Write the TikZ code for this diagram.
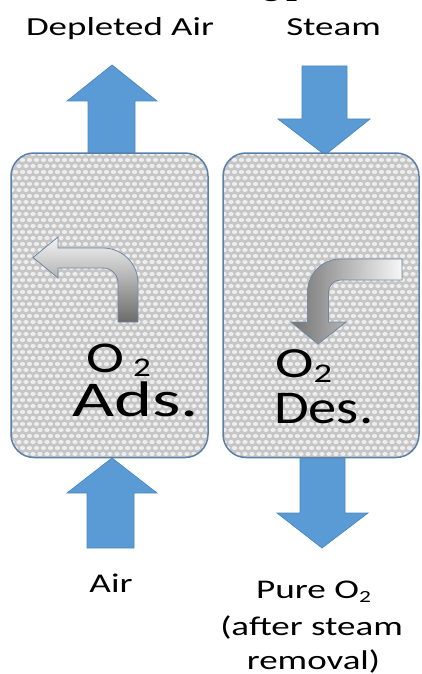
\documentclass[tikz,border=0pt]{standalone}
\usepackage{fontspec}
\setmainfont{Carlito}
\definecolor{flowblue}{HTML}{5B9BD5}
\definecolor{flowedge}{HTML}{4C86BE}
\definecolor{bedgray}{HTML}{C6C6C6}
\definecolor{beddot}{HTML}{EEEEEE}
\definecolor{bededge}{HTML}{5B80A8}
\definecolor{turnedge}{HTML}{6F88A3}
\newcommand\stretchx[2]{\scalebox{#1}[1]{#2}}
\begin{document}
\begin{tikzpicture}[x=1pt,y=-1pt,
  flow/.style={fill=flowblue,draw=flowedge,line width=0.7pt,line join=miter},
  bed/.style={rounded corners=23pt},
  bedline/.style={bed,draw=bededge,line width=1.5pt},
  turn/.style={draw=turnedge,line width=0.8pt},
  lbl/.style={inner sep=0pt,anchor=base,font=\fontsize{26}{30}\selectfont},
  big/.style={inner sep=0pt,anchor=base west}]
\useasboundingbox (0,0) rectangle (421,674);

% heading, cut off at the top edge
\node[big,font=\fontsize{28}{30}\selectfont] (head) at (258,1.3)
  {\stretchx{1.4}{O\hspace{1pt}{\fontsize{17}{17}\selectfont 2}}};

% blue flow arrows
\draw[flow] (88,155) -- (88,101) -- (67,101) -- (112,65) -- (157,101) -- (135,101) -- (135,155) -- cycle;
\draw[flow] (302,66) -- (347,66) -- (347,119) -- (370,119) -- (325,155) -- (278,119) -- (302,119) -- cycle;
\draw[flow] (87,548) -- (87,493) -- (67,493) -- (112,458) -- (157,493) -- (134,493) -- (134,548) -- cycle;
\draw[flow] (300,456) -- (345,456) -- (345,513) -- (368,513) -- (322,548) -- (277,513) -- (300,513) -- cycle;

% packed beds with a knitted texture
\foreach \bx/\ex in {11/208,223/419}{
  \begin{scope}
    \clip[bed] (\bx,153) rectangle (\ex,457.5);
    \fill[bedgray] (\bx,153) rectangle (\ex,457.5);
    \foreach \r in {0,...,51}{
      \foreach \c in {0,...,29}{
        \fill[beddot] ({\bx+1+7*\c+3.5*mod(\r,2)},{154+6*\r}) ellipse (2.7 and 2.0);
      }
    }
  \end{scope}
  \draw[bedline] (\bx,153) rectangle (\ex,457.5);
}

% turning arrows inside the beds
\draw[turn,top color=white!96!black,bottom color=black!58] (118,322) -- (118,283)
  arc[start angle=0,end angle=-90,radius=15] -- (58,268) -- (58,278) -- (33,257.5)
  -- (58,237) -- (58,248) -- (103,248) arc[start angle=-90,end angle=0,radius=35]
  -- (138,322) -- cycle;
\draw[turn,left color=black!55,right color=white!97!black] (402,259) -- (340.5,259)
  arc[start angle=-90,end angle=-180,radius=33] -- (307.5,322) -- (291,322) -- (318,344)
  -- (346,322) -- (328.5,322) -- (328.5,292) arc[start angle=180,end angle=270,radius=12]
  -- (402,280) -- cycle;

% bed labels
\node[big,font=\fontsize{44}{48}\selectfont] (oads) at (86,372)
  {\stretchx{1.3}{O\hspace{7pt}\raisebox{-4pt}{\fontsize{27}{27}\selectfont 2}}};
\node[big,font=\fontsize{50}{54}\selectfont] (ads) at (72,416) {\stretchx{1.45}{Ads.}};
\node[big,font=\fontsize{43}{48}\selectfont] (odes) at (275,377)
  {\stretchx{1.35}{O\raisebox{-5pt}{\fontsize{27}{27}\selectfont 2}}};
\node[big,font=\fontsize{47}{52}\selectfont] (des) at (274,423) {\stretchx{1.2}{Des.}};

% stream labels
\node[lbl] (depl) at (120,36) {\stretchx{1.42}{Depleted Air}};
\node[lbl] (steam) at (333.5,36) {\stretchx{1.42}{Steam}};
\node[lbl,font=\fontsize{27}{30}\selectfont] (air) at (111,592) {\stretchx{1.38}{Air}};
\node[lbl,font=\fontsize{27}{30}\selectfont] (pure) at (313.5,598)
  {\stretchx{1.38}{Pure O\raisebox{-4pt}{\fontsize{17}{17}\selectfont 2}}};
\node[lbl,font=\fontsize{27}{30}\selectfont] (after) at (311.5,635) {\stretchx{1.37}{(after steam}};
\node[lbl,font=\fontsize{27}{30}\selectfont] (remov) at (313.5,669) {\stretchx{1.37}{removal)}};
\end{tikzpicture}
\end{document}
